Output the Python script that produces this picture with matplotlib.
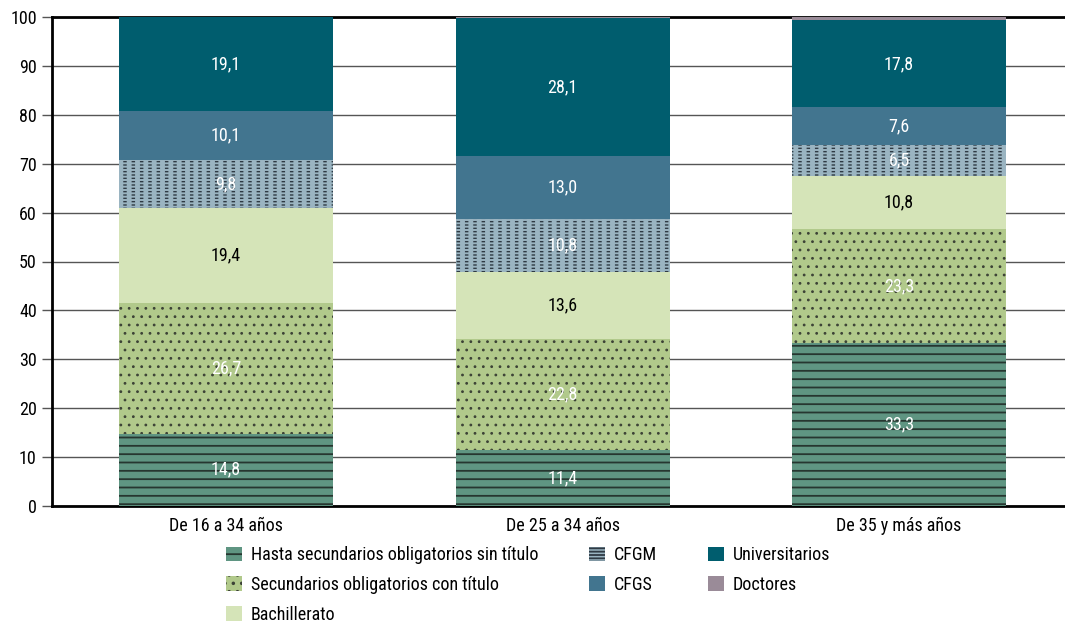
import numpy as np
import matplotlib
matplotlib.use('Agg')
import matplotlib.pyplot as plt
from matplotlib import font_manager

# condensed font if there is one
names = set(f.name for f in font_manager.fontManager.ttflist)
fam = 'DejaVu Sans'
for n in ['Liberation Sans Narrow', 'Roboto Condensed', 'Roboto']:
    if n in names:
        fam = n
        break
plt.rcParams['font.family'] = [fam, 'DejaVu Sans']
plt.rcParams['hatch.linewidth'] = 1.3

grupos = ['De 16 a 34 años', 'De 25 a 34 años', 'De 35 y más años']
etiquetas = ['Hasta secundarios obligatorios sin título',
             'Secundarios obligatorios con título',
             'Bachillerato', 'CFGM', 'CFGS', 'Universitarios', 'Doctores']
hasta = [14.8, 11.4, 33.3]
secund = [26.7, 22.8, 23.3]
bach = [19.4, 13.6, 10.8]
cfgm = [9.8, 10.8, 6.5]
cfgs = [10.1, 13.0, 7.6]
univ = [19.1, 28.1, 17.8]
doct = [0.6, 0.5, 1.3]

valores = [hasta, secund, bach, cfgm, cfgs, univ, doct]
caras = ['#5f9582', '#b1c98b', '#d5e4b8', '#9ab4c1', '#42758f', '#005d6e', '#9a8b98']
rayas = ['--', '..', None, '-----', None, None, None]
col_raya = ['#263630', '#3c4236', 'none', '#2f3a44', 'none', 'none', 'none']
grosor = [1.3, 0.8, 1.0, 1.0, 1.0, 1.0, 1.0]
col_txt = ['white', 'white', 'black', 'white', 'white', 'white', None]


def grosor_raya(barras, lw):
    for p in barras:
        if hasattr(p, 'set_hatch_linewidth'):
            p.set_hatch_linewidth(lw)


fig = plt.figure(figsize=(10.65, 6.22), dpi=100)
ax = fig.add_axes([52/1065, 116/622, 1013/1065, 489/622])

x = np.arange(len(grupos))
w = 0.636
base = np.zeros(len(grupos))
for i, v in enumerate(valores):
    v = np.array(v)
    b = ax.bar(x, v, w, bottom=base, color=caras[i], edgecolor=col_raya[i],
               hatch=rayas[i], linewidth=0, label=etiquetas[i], zorder=3)
    grosor_raya(b, grosor[i])
    if etiquetas[i] == 'CFGM':
        # cortar las rayas en guiones
        b2 = ax.bar(x, v, w, bottom=base, color='none', edgecolor=caras[i],
                    hatch='||', linewidth=0, zorder=3.5)
        grosor_raya(b2, 3.5)
    if col_txt[i]:
        for xi, bi, vi in zip(x, base, v):
            ax.text(xi, bi + vi / 2, f'{vi:.1f}'.replace('.', ','),
                    ha='center', va='center', color=col_txt[i], fontsize=13, zorder=5)
    base = base + v

ax.set_xlim(-0.517, 2.493)
ax.set_ylim(0, 100)
ax.set_yticks(np.arange(0, 101, 10))
ax.set_xticks(x)
ax.set_xticklabels(grupos, fontsize=13)
ax.tick_params(axis='x', length=0, pad=8)
ax.tick_params(axis='y', length=7, width=1, color='#555555', labelsize=13, pad=4)
ax.yaxis.grid(True, color='#555555', linewidth=1, zorder=0)
ax.set_axisbelow(True)
ax.spines['right'].set_visible(False)
ax.spines['left'].set_linewidth(2)
ax.spines['bottom'].set_linewidth(2)
ax.spines['top'].set_linewidth(2)

ax.legend(loc='upper center', bbox_to_anchor=(528/1065, 83/622), bbox_transform=fig.transFigure,
          ncol=3, frameon=False, fontsize=13, handlelength=0.9, handleheight=0.9,
          handletextpad=0.5, labelspacing=0.65, columnspacing=2.8, borderaxespad=0)

fig.savefig('out.png', dpi=100)
